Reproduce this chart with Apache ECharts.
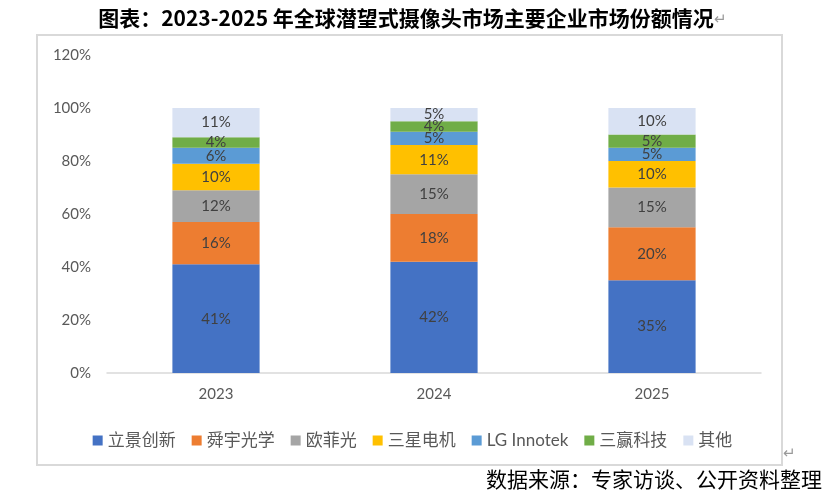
<!DOCTYPE html>
<html><head><meta charset="utf-8">
<script src="https://cdn.jsdelivr.net/npm/echarts@6/dist/echarts.min.js"></script>
<style>html,body{margin:0;padding:0;background:#fff}#c{width:825px;height:496px}</style>
</head><body><div id="c"></div>
<script>
const years = ['2023', '2024', '2025'];
const names = ['立景创新', '舜宇光学', '欧菲光', '三星电机', 'LG Innotek', '三赢科技', '其他'];
const colors = ['#4472C4', '#ED7D31', '#A5A5A5', '#FFC000', '#5B9BD5', '#70AD47', '#D9E2F3'];
const liJing = [41, 42, 35];
const sunny = [16, 18, 20];
const ofilm = [12, 15, 15];
const semco = [10, 11, 10];
const lgInnotek = [6, 5, 5];
const sanying = [4, 4, 5];
const others = [11, 5, 10];
const yTicks = [0, 20, 40, 60, 80, 100, 120];
const values = [liJing, sunny, ofilm, semco, lgInnotek, sanying, others];
const font = 'Lato, "Noto Sans CJK SC", sans-serif';
const chart = echarts.init(document.getElementById('c'));
chart.setOption({
  animation: false,
  title: {
    text: '图表：2023-2025 年全球潜望式摄像头市场主要企业市场份额情况{r|↵}',
    left: 'center', top: 3,
    textStyle: { fontSize: 21, fontWeight: 'bold', color: '#000', fontFamily: '"Noto Sans CJK SC", sans-serif',
      rich: { r: { fontSize: 15, color: '#999', fontWeight: 'normal' } } }
  },
  graphic: [
    { type: 'rect', shape: { x: 37, y: 35, width: 745, height: 430 }, style: { fill: 'none', stroke: '#d9d9d9', lineWidth: 2 } },
    { type: 'text', left: 783, top: 446, style: { text: '↵', fontSize: 15, fill: '#999' } },
    { type: 'text', right: 3, top: 469, style: { text: '数据来源：专家访谈、公开资料整理', fontSize: 21, fill: '#000', fontFamily: '"Noto Sans CJK SC", sans-serif' } }
  ],
  legend: {
    top: 427, left: 'center', itemWidth: 10, itemHeight: 10, itemGap: 16, icon: 'rect',
    textStyle: { fontSize: 17, color: '#595959', fontFamily: font },
    data: names
  },
  grid: { left: 107, right: 64, top: 55, bottom: 123 },
  xAxis: {
    type: 'category', data: years,
    axisLine: { lineStyle: { color: '#d9d9d9', width: 1.5 } },
    axisTick: { show: false },
    axisLabel: { fontSize: 15, color: '#595959', margin: 14, fontFamily: font }
  },
  yAxis: {
    type: 'value', min: 0, max: 120, interval: 20,
    axisLine: { show: false }, axisTick: { show: false }, splitLine: { show: false },
    axisLabel: { fontSize: 15, color: '#595959', margin: 16, fontFamily: font,
      formatter: v => yTicks.includes(v) ? v + '%' : '' }
  },
  series: names.map((n, i) => ({
    name: n, type: 'bar', stack: 'all', barWidth: '40%',
    itemStyle: { color: colors[i] },
    label: { show: true, position: 'inside', formatter: p => p.value + '%', fontSize: 15, color: '#404040', fontFamily: font },
    data: values[i]
  }))
});
</script></body></html>
